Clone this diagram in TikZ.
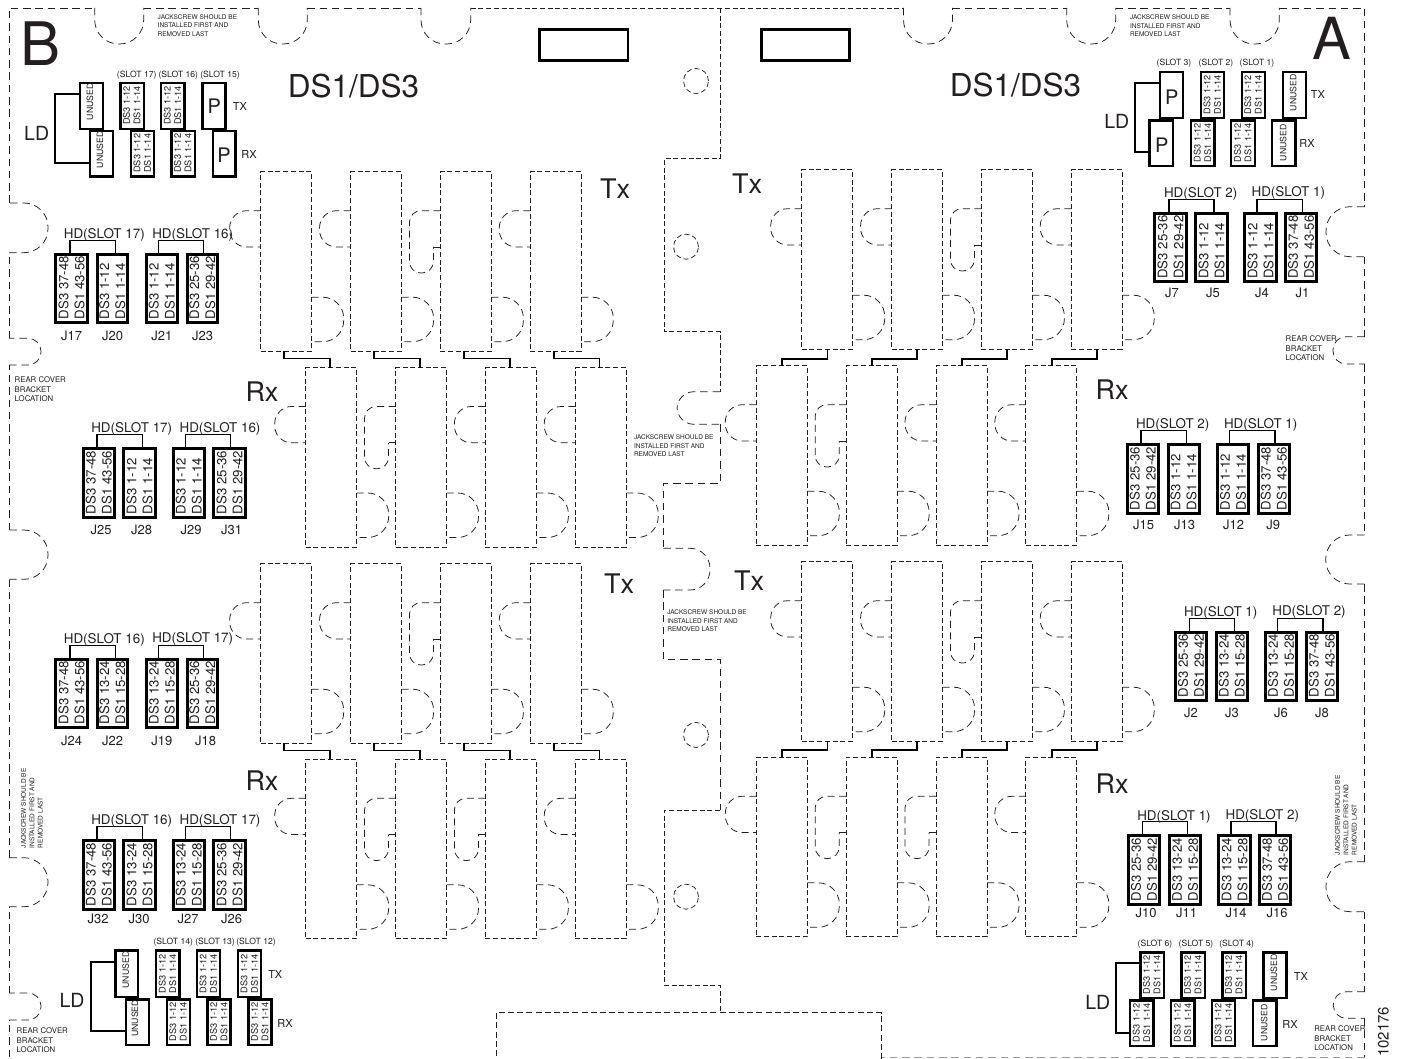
\documentclass[tikz,border=0pt]{standalone}
\usepackage{fontspec}
\setmainfont{TeX Gyre Heros}
\definecolor{ink}{HTML}{231F20}
\tikzset{
  slotrect/.style={draw=ink,line width=.75pt,dash pattern=on 5pt off 2.7pt,inner sep=0,outer sep=0,minimum width=51pt,minimum height=179.5pt},
  tabline/.style={draw=ink,line width=.75pt,dash pattern=on 7pt off 4.5pt},
  outline/.style={draw=ink,line width=.75pt,dash pattern=on 7.5pt off 4.8pt},
  fineline/.style={draw=ink,line width=.75pt,dash pattern=on 5pt off 2.7pt},
  hole/.style={draw=ink,line width=.75pt,dash pattern=on 5pt off 3pt,circle,inner sep=0,outer sep=0,minimum size=25pt},
  hdbox/.style={draw=black,line width=3pt,inner sep=0,outer sep=0,fill=white},
  smallbox/.style={draw=black,line width=2.4pt,inner sep=0,outer sep=0,fill=white},
  bracketline/.style={draw=black,line width=1.3pt},
  ldline/.style={draw=black,line width=2pt},
  linkline/.style={draw=black,line width=1.8pt},
  plate/.style={draw=black,line width=2.4pt,inner sep=0,outer sep=0},
  txt/.style={text=ink,inner sep=0,outer sep=0},
  hdtext/.style={txt,rotate=90,anchor=base west,font=\fontsize{13.2}{13.2}\selectfont},
  smtext/.style={txt,rotate=90,anchor=base west,font=\fontsize{9.2}{9.2}\selectfont},
  notetext/.style={txt,align=left,font=\fontsize{6.5}{8.4}\selectfont},
  reartext/.style={txt,align=left,font=\fontsize{7.8}{9.4}\selectfont},
}
\newcounter{tn}
% size x y(center of capitals) text
\newcommand\lab[4]{\stepcounter{tn}\node[txt,anchor=base,font=\fontsize{#1}{#1}\selectfont] (t\arabic{tn}) at (#2,#3+.36*#1) {#4};}
% name x1 x2 y1 y2 line1 line2
\newcommand\jbox[7]{%
  \pgfmathsetmacro\cx{(#2+#3)/2}\pgfmathsetmacro\cy{(#4+#5)/2}%
  \pgfmathsetmacro\bw{#3-#2-3}\pgfmathsetmacro\bh{#5-#4-3}%
  \node[hdbox,minimum width=\bw pt,minimum height=\bh pt] (#1) at (\cx,\cy) {};
  \node[hdtext] (#1a) at (\cx-8+4.75,#5-4.7) {#6};
  \node[hdtext] (#1b) at (\cx+8+4.75,#5-4.7) {#7};
}
% name x1 x2 y1 y2 : empty small box
\newcommand\sbx[5]{%
  \pgfmathsetmacro\cx{(#2+#3)/2}\pgfmathsetmacro\cy{(#4+#5)/2}%
  \pgfmathsetmacro\bw{#3-#2-2.4}\pgfmathsetmacro\bh{#5-#4-2.4}%
  \node[smallbox,minimum width=\bw pt,minimum height=\bh pt] (#1) at (\cx,\cy) {};
}
% small box with the two DS lines
\newcommand\ds[5]{%
  \sbx{#1}{#2}{#3}{#4}{#5}
  \node[smtext] (#1a) at (\cx-5.5+3.3,#5-5) {DS3 1-12};
  \node[smtext] (#1b) at (\cx+5+3.3,#5-5) {DS1 1-14};
}
\newcommand\unu[3]{\node[txt,rotate=90,font=\fontsize{8.7}{8.7}\selectfont] (#1) at (#2,#3) {UNUSED};}
\newcommand\pp[3]{\node[txt,font=\fontsize{20}{20}\selectfont] (#1) at (#2,#3) {P};}
\newcommand\brk[4]{\draw[bracketline] ([xshift=#2pt]#1.north) -- ++(0,-14) -| ([xshift=#4pt]#3.north);}
\newcommand\ldb[5]{\draw[ldline] ([yshift=#2pt]#1.west) -- ++(-#5,0) |- ([yshift=#4pt]#3.west);}
% name x0 ytop elong1..4
\newcommand\bank[7]{%
  \foreach \i/\e in {1/#4,2/#5,3/#6,4/#7}{%
    \pgfmathsetmacro\rx{#2+(\i-1)*89.85}%
    \pgfmathsetmacro\ya{#3+39}\pgfmathsetmacro\yb{#3+75.3}\pgfmathsetmacro\yc{#3+101.3}%
    \pgfmathsetmacro\yd{#3+125.5}\pgfmathsetmacro\ye{#3+170}%
    \node[slotrect] (#1\i) at (\rx+25.5,#3+89.75) {};
    \ifnum\e=1
      \draw[tabline,rounded corners=11.5pt] (\rx,\ya) -- (\rx-31,\ya) -- (\rx-31,\yc) -- (\rx-7,\yc) -- (\rx-7,\yb);
      \draw[draw=ink,line width=.75pt] (\rx-7,\yb) -- (\rx,\yb);
    \else
      \draw[tabline,rounded corners=17pt] (\rx,\ya) -- (\rx-31,\ya) -- (\rx-31,\yb) -- (\rx,\yb);
    \fi
    \draw[tabline,rounded corners=21pt] (\rx+51,\yd) -- (\rx+83,\yd) -- (\rx+83,\ye) -- (\rx+51,\ye);
  }%
}
\begin{document}
\begin{tikzpicture}[x=1pt,y=-1pt]
\useasboundingbox (0,0) rectangle (1403,1059);
\fill[white] (0,0) rectangle (1403,1059);

% ---------- board outline
\draw[outline] (9,1057) -- (9,1020);
\draw[outline,rounded corners=13pt] (9,1020) -- (41,1020) -- (41,993) -- (9,993);
\draw[outline] (9,993) -- (9,906.7);
\draw[outline,rounded corners=24pt] (9,906.7) -- (48,906.7) -- (48,857.7) -- (9,857.7);
\draw[outline] (9,857.7) -- (9,579.3);
\draw[outline,rounded corners=24pt] (9,579.3) -- (48,579.3) -- (48,530) -- (9,530);
\draw[outline] (9,530) -- (9,365);
\draw[outline,rounded corners=13pt] (9,365) -- (41,365) -- (41,338.3) -- (9,338.3);
\draw[outline] (9,338.3) -- (9,252.7);
\draw[outline,rounded corners=24pt] (9,252.7) -- (48,252.7) -- (48,203) -- (9,203);
\draw[outline] (9,203) -- (9,8) -- (94.7,8);
\draw[outline,rounded corners=24pt] (94.7,8) -- (94.7,44) -- (143.7,44) -- (143.7,8);
\draw[outline] (143.7,8) -- (258.3,8);
\draw[outline,rounded corners=24pt] (258.3,8) -- (258.3,44) -- (307.3,44) -- (307.3,8);
\draw[outline] (307.3,8) -- (421,8);
\draw[outline,rounded corners=24pt] (421,8) -- (421,44) -- (470.7,44) -- (470.7,8);
\draw[fineline] (470.7,8) -- (903.5,8);
\draw[outline,rounded corners=24pt] (903.5,8) -- (903.5,44) -- (952.5,44) -- (952.5,8);
\draw[outline] (952.5,8) -- (1066.7,8);
\draw[outline,rounded corners=24pt] (1066.7,8) -- (1066.7,44) -- (1115.7,44) -- (1115.7,8);
\draw[outline] (1115.7,8) -- (1230,8);
\draw[outline,rounded corners=24pt] (1230,8) -- (1230,44) -- (1279.3,44) -- (1279.3,8);
\draw[outline] (1279.3,8) -- (1364.7,8) -- (1364.7,206.7);
\draw[outline,rounded corners=24pt] (1364.7,206.7) -- (1326,206.7) -- (1326,256.7) -- (1364.7,256.7);
\draw[outline] (1364.7,256.7) -- (1364.7,336.7);
\draw[outline,rounded corners=13pt] (1364.7,336.7) -- (1333,336.7) -- (1333,364) -- (1364.7,364);
\draw[outline] (1364.7,364) -- (1364.7,535);
\draw[outline,rounded corners=24pt] (1364.7,535) -- (1325.7,535) -- (1325.7,584) -- (1364.7,584);
\draw[outline] (1364.7,584) -- (1364.7,861.7);
\draw[outline,rounded corners=24pt] (1364.7,861.7) -- (1326,861.7) -- (1326,911.7) -- (1364.7,911.7);
\draw[outline] (1364.7,911.7) -- (1364.7,991.7);
\draw[outline,rounded corners=13pt] (1364.7,991.7) -- (1333.3,991.7) -- (1333.3,1018.3) -- (1364.7,1018.3);
\draw[outline] (1364.7,1018.3) -- (1364.7,1057);
\draw[draw=ink!45,line width=.6pt,dash pattern=on 7.5pt off 4.8pt] (1364.7,1057) -- (881.7,1057);
\draw[draw=ink,line width=.75pt,dash pattern=on 6pt off 3.2pt] (881.7,1059) -- (881.7,1012.7) -- (496,1012.7) -- (496,1059);
% centre seam
\draw[fineline] (720,8) -- (720,158.7) -- (664,158.7) -- (664,331.7) -- (720,331.7) -- (720,391.7);
\draw[outline,rounded corners=17pt] (720,391.7) -- (677,391.7) -- (677,424.3) -- (720,424.3);
\draw[outline] (720,424.3) -- (720,483.3) -- (663.3,483.3) -- (663.3,548.3);
\draw[outline,rounded corners=20pt] (663.3,548.3) -- (710,548.3) -- (710,590) -- (663.3,590);
\draw[outline] (663.3,590) -- (663.3,659.3) -- (720,659.3) -- (720,810);
\draw[fineline] (720,810) -- (664,810) -- (664,985) -- (720,985) -- (720,1012.7);
% holes
\node[hole] (h1) at (696,81) {};
\node[hole] (h2) at (686,246.7) {};
\node[hole] (h3) at (696,735) {};
\node[hole] (h4) at (686,896.7) {};
% plates
\node[plate,minimum width=88.3pt,minimum height=31pt] (pl) at (583.7,45) {};
\node[plate,minimum width=88.3pt,minimum height=31pt] (pr) at (805.5,45) {};

% ---------- slot banks
\bank{TUL}{260.7}{171.7}{0}{0}{1}{0}
\bank{RUL}{305.7}{367.5}{0}{1}{0}{0}
\bank{TLL}{260.7}{563.7}{0}{0}{1}{0}
\bank{RLL}{305.7}{759.3}{0}{1}{1}{0}
\bank{TUR}{801.7}{169.7}{0}{0}{1}{0}
\bank{RUR}{756.3}{365.7}{0}{1}{0}{0}
\bank{TLR}{801.7}{561.7}{0}{0}{1}{0}
\bank{RLR}{756.3}{757.3}{0}{1}{1}{0}
\foreach \i in {1,2,3,4}{
  \draw[linkline] ([xshift=-1.9pt]TUL\i.south) -- ++(0,7.3) -| ([xshift=-1.2pt]RUL\i.north);
  \draw[linkline] ([xshift=-1.9pt]TLL\i.south) -- ++(0,7.3) -| ([xshift=-1.2pt]RLL\i.north);
  \draw[linkline] ([xshift=.5pt]RUR\i.north) -- ++(0,-7) -| ([xshift=.3pt]TUR\i.south);
  \draw[linkline] ([xshift=.5pt]RLR\i.north) -- ++(0,-7) -| ([xshift=.3pt]TLR\i.south);
}

% ---------- big labels
\lab{60}{40.7}{44}{B}
\lab{58}{1332}{39}{A}
\lab{31.5}{353.5}{86}{DS1/DS3}
\lab{31.5}{1015.5}{85}{DS1/DS3}
\lab{27}{615}{189}{Tx}
\lab{27}{747}{184}{Tx}
\lab{27}{619}{584}{Tx}
\lab{27}{749}{581}{Tx}
\lab{27}{262}{392}{Rx}
\lab{27}{1112}{390}{Rx}
\lab{27}{262}{781}{Rx}
\lab{27}{1112}{784}{Rx}

% ---------- notes
\node[notetext,anchor=north west] (n1) at (157.7,14.5) {JACKSCREW SHOULD BE\\INSTALLED FIRST AND\\REMOVED LAST};
\node[notetext,anchor=north west] (n2) at (1130,15) {JACKSCREW SHOULD BE\\INSTALLED FIRST AND\\REMOVED LAST};
\node[notetext,anchor=north west] (n3) at (634,435) {JACKSCREW SHOULD BE\\INSTALLED FIRST AND\\REMOVED LAST};
\node[notetext,anchor=north west] (n4) at (667.3,610) {JACKSCREW SHOULD BE\\INSTALLED FIRST AND\\REMOVED LAST};
\node[notetext,rotate=90,anchor=north west] (n5) at (21,848) {JACKSCREW SHOULD BE\\INSTALLED FIRST AND\\REMOVED LAST};
\node[notetext,rotate=90,anchor=north west] (n6) at (1335,855) {JACKSCREW SHOULD BE\\INSTALLED FIRST AND\\REMOVED LAST};
\node[reartext,anchor=north west] (r1) at (14.7,377) {REAR COVER\\BRACKET\\LOCATION};
\node[reartext,anchor=north west] (r2) at (1285.7,336) {REAR COVER\\BRACKET\\LOCATION};
\node[reartext,anchor=north west] (r3) at (16.7,1028) {REAR COVER\\BRACKET\\LOCATION};
\node[reartext,anchor=north west] (r4) at (1314.3,1026) {REAR COVER\\BRACKET\\LOCATION};
\node[txt,rotate=90,font=\fontsize{15}{15}\selectfont] (code) at (1383.3,1031.7) {102176};

% ---------- HD groups
\jbox{J17}{54.3}{88.7}{253.3}{324}{DS3 37-48}{DS1 43-56}
\jbox{J20}{95.7}{129}{253.3}{324}{DS3 1-12}{DS1 1-14}
\jbox{J21}{145}{178.7}{253.3}{324}{DS3 1-12}{DS1 1-14}
\jbox{J23}{185.7}{219}{253.3}{324}{DS3 25-36}{DS1 29-42}
\brk{J17}{-1.5}{J20}{2.8}\brk{J21}{-3.5}{J23}{1}
\lab{13.4}{104.3}{233.5}{HD(SLOT 17)}\lab{13.4}{192.7}{233.5}{HD(SLOT 16)}
\lab{13}{71.7}{335.5}{J17}\lab{13}{112.5}{335.5}{J20}\lab{13}{161.8}{335.5}{J21}\lab{13}{202.5}{335.5}{J23}

\jbox{J25}{81.7}{116}{447.3}{518.7}{DS3 37-48}{DS1 43-56}
\jbox{J28}{122.3}{156.7}{447.3}{518.7}{DS3 1-12}{DS1 1-14}
\jbox{J29}{171.7}{206}{447.3}{518.7}{DS3 1-12}{DS1 1-14}
\jbox{J31}{212.3}{246.7}{447.3}{518.7}{DS3 25-36}{DS1 29-42}
\brk{J25}{-1.8}{J28}{2.8}\brk{J29}{-3.5}{J31}{1}
\lab{13.4}{131.7}{427.5}{HD(SLOT 17)}\lab{13.4}{220}{427.5}{HD(SLOT 16)}
\lab{13}{101}{530}{J25}\lab{13}{141.7}{530}{J28}\lab{13}{191}{530}{J29}\lab{13}{231.5}{530}{J31}

\jbox{J24}{54.3}{88.7}{658.3}{729}{DS3 37-48}{DS1 43-56}
\jbox{J22}{95.7}{129}{658.3}{729}{DS3 13-24}{DS1 15-28}
\jbox{J19}{145}{178.7}{658.3}{729}{DS3 13-24}{DS1 15-28}
\jbox{J18}{185.7}{219}{658.3}{729}{DS3 25-36}{DS1 29-42}
\brk{J24}{-1.5}{J22}{2.8}\brk{J19}{-3.5}{J18}{1}
\lab{13.4}{104.3}{638.5}{HD(SLOT 16)}\lab{13.4}{192.7}{637.5}{HD(SLOT 17)}
\lab{13}{71.7}{740.5}{J24}\lab{13}{112.5}{740.5}{J22}\lab{13}{161.8}{740.5}{J19}\lab{13}{205.5}{740.5}{J18}

\jbox{J32}{81.7}{116}{839.3}{910.7}{DS3 37-48}{DS1 43-56}
\jbox{J30}{122.3}{156.7}{839.3}{910.7}{DS3 13-24}{DS1 15-28}
\jbox{J27}{171.7}{206}{839.3}{910.7}{DS3 13-24}{DS1 15-28}
\jbox{J26}{212.3}{246.7}{839.3}{910.7}{DS3 25-36}{DS1 29-42}
\brk{J32}{-1.8}{J30}{2.8}\brk{J27}{-3.5}{J26}{1}
\lab{13.4}{131.7}{819.5}{HD(SLOT 16)}\lab{13.4}{220}{819.5}{HD(SLOT 17)}
\lab{13}{98}{919}{J32}\lab{13}{139}{919}{J30}\lab{13}{188}{919}{J27}\lab{13}{231.5}{919}{J26}

\jbox{J7}{1153.3}{1187.7}{211.7}{283.3}{DS3 25-36}{DS1 29-42}
\jbox{J5}{1194.3}{1228.7}{211.7}{283.3}{DS3 1-12}{DS1 1-14}
\jbox{J4}{1243.3}{1277.7}{211.7}{283.3}{DS3 1-12}{DS1 1-14}
\jbox{J1}{1284}{1318.3}{211.7}{283.3}{DS3 37-48}{DS1 43-56}
\brk{J7}{-1.5}{J5}{2.5}\brk{J4}{-3.5}{J1}{1.3}
\lab{13.4}{1200.7}{192.5}{HD(SLOT 2)}\lab{13.4}{1288.3}{191.5}{HD(SLOT 1)}
\lab{13}{1172}{293}{J7}\lab{13}{1213}{293}{J5}\lab{13}{1262}{293}{J4}\lab{13}{1302.5}{293}{J1}

\jbox{J15}{1125.7}{1160}{443.3}{514.7}{DS3 25-36}{DS1 29-42}
\jbox{J13}{1166.7}{1200.7}{443.3}{514.7}{DS3 1-12}{DS1 1-14}
\jbox{J12}{1216}{1250}{443.3}{514.7}{DS3 1-12}{DS1 1-14}
\jbox{J9}{1256.7}{1291}{443.3}{514.7}{DS3 37-48}{DS1 43-56}
\brk{J15}{-1.8}{J13}{2.8}\brk{J12}{-3.5}{J9}{1}
\lab{13.4}{1172.7}{424}{HD(SLOT 2)}\lab{13.4}{1260.7}{424}{HD(SLOT 1)}
\lab{13}{1143.5}{525}{J15}\lab{13}{1184.5}{525}{J13}\lab{13}{1233.7}{525}{J12}\lab{13}{1273.3}{525}{J9}

\jbox{J2}{1174}{1208}{631}{702}{DS3 25-36}{DS1 29-42}
\jbox{J3}{1214.7}{1249}{631}{702}{DS3 13-24}{DS1 15-28}
\jbox{J6}{1264}{1298.3}{631}{702}{DS3 13-24}{DS1 15-28}
\jbox{J8}{1304.7}{1339}{631}{702}{DS3 37-48}{DS1 43-56}
\brk{J2}{-1.8}{J3}{2.8}\brk{J6}{-3.5}{J8}{1}
\lab{13.4}{1220.7}{611.5}{HD(SLOT 1)}\lab{13.4}{1309}{610.5}{HD(SLOT 2)}
\lab{13}{1191}{713}{J2}\lab{13}{1232}{713}{J3}\lab{13}{1281}{713}{J6}\lab{13}{1322}{713}{J8}

\jbox{J10}{1126.7}{1161.3}{834.3}{906}{DS3 25-36}{DS1 29-42}
\jbox{J11}{1167.7}{1202.3}{834.3}{906}{DS3 13-24}{DS1 15-28}
\jbox{J14}{1217.3}{1251.7}{834.3}{906}{DS3 13-24}{DS1 15-28}
\jbox{J16}{1257.7}{1292.3}{834.3}{906}{DS3 37-48}{DS1 43-56}
\brk{J10}{-1.8}{J11}{2.8}\brk{J14}{-3.5}{J16}{1}
\lab{13.4}{1174}{815.5}{HD(SLOT 1)}\lab{13.4}{1262.3}{815}{HD(SLOT 2)}
\lab{13}{1146}{913}{J10}\lab{13}{1186.5}{913}{J11}\lab{13}{1236}{913}{J14}\lab{13}{1277}{913}{J16}

% ---------- top-left small group
\sbx{UA}{79}{104}{81.7}{130}\sbx{UB}{89}{114.3}{130}{177.7}
\unu{UAt}{90}{101.7}\unu{UBt}{100}{149.7}
\ds{SA1}{119.3}{145}{81.7}{130}\ds{SB1}{130}{155.3}{130}{177.7}
\ds{SA2}{160}{185.7}{81.7}{130}\ds{SB2}{170.3}{196}{130}{177.7}
\sbx{PA}{201.3}{226.7}{81.7}{130}\sbx{PB}{211.7}{236.7}{130}{177.7}
\pp{PAt}{214.3}{106.7}\pp{PBt}{224}{155}
\ldb{UA}{11.85}{UB}{-9.45}{25.2}
\lab{19.5}{36.7}{133.5}{LD}\lab{11}{240}{107}{TX}\lab{11}{249}{155}{RX}
\lab{8.6}{136.7}{74}{(SLOT 17)}\lab{8.6}{178.3}{74}{(SLOT 16)}\lab{8.6}{220}{74}{(SLOT 15)}

% ---------- top-right small group
\sbx{QA}{1159}{1184.3}{71}{119.3}\sbx{QB}{1148.3}{1174.3}{119.3}{167.3}
\pp{QAt}{1171.7}{97.7}\pp{QBt}{1161.7}{145}
\ds{TA1}{1200}{1225.3}{71}{119.3}\ds{TB1}{1189.7}{1215.7}{119.3}{167.3}
\ds{TA2}{1240.7}{1266}{71}{119.3}\ds{TB2}{1230}{1256}{119.3}{167.3}
\sbx{VA}{1282}{1307.3}{71}{119.3}\sbx{VB}{1271}{1296.7}{119.3}{167.3}
\unu{VAt}{1293.3}{92.8}\unu{VBt}{1283.3}{142.8}
\ldb{QA}{12.15}{QB}{-8.7}{25.2}
\lab{19.5}{1116.7}{121.7}{LD}\lab{11}{1318}{95}{TX}\lab{11}{1307}{144}{RX}
\lab{8.6}{1174}{62.7}{(SLOT 3)}\lab{8.6}{1216}{62.7}{(SLOT 2)}\lab{8.6}{1257}{62.7}{(SLOT 1)}

% ---------- bottom-left small group
\sbx{WA}{114.3}{139.3}{949.3}{998.3}\sbx{WB}{124.7}{150}{998.3}{1046}
\unu{WAt}{125.7}{970}\unu{WBt}{135}{1018.3}
\ds{XA1}{155}{180.7}{949.3}{998.3}\ds{XB1}{165.7}{191}{998.3}{1046}
\ds{XA2}{195.7}{221.3}{949.3}{998.3}\ds{XB2}{206.3}{231.7}{998.3}{1046}
\ds{XA3}{236.7}{262.3}{949.3}{998.3}\ds{XB3}{247.3}{272.7}{998.3}{1046}
\ldb{WA}{12.1}{WB}{-8.55}{24.8}
\lab{19.5}{72}{1000.7}{LD}\lab{11}{275.3}{975}{TX}\lab{11}{285}{1023.3}{RX}
\lab{8.6}{173.3}{941.7}{(SLOT 14)}\lab{8.6}{215}{941.7}{(SLOT 13)}\lab{8.6}{256}{941.7}{(SLOT 12)}

% ---------- bottom-right small group
\ds{YA1}{1139.3}{1165}{951.3}{999.3}\ds{YB1}{1128.7}{1154.7}{999.3}{1047.3}
\ds{YA2}{1180.3}{1206}{951.3}{999.3}\ds{YB2}{1170}{1195.7}{999.3}{1047.3}
\ds{YA3}{1221.3}{1247}{951.3}{999.3}\ds{YB3}{1210.7}{1236.3}{999.3}{1047.3}
\sbx{ZA}{1262.3}{1287.7}{951.3}{999.3}\sbx{ZB}{1251.7}{1277.7}{999.3}{1047.3}
\unu{ZAt}{1274}{972.8}\unu{ZBt}{1264.3}{1022.8}
\ldb{YA1}{12.6}{YB1}{-10}{24.8}
\lab{19.5}{1097.7}{1002.7}{LD}\lab{11}{1301}{976.7}{TX}\lab{11}{1290}{1025}{RX}
\lab{8.6}{1155}{943.7}{(SLOT 6)}\lab{8.6}{1196}{943.7}{(SLOT 5)}\lab{8.6}{1236.7}{943.7}{(SLOT 4)}
\end{tikzpicture}
\end{document}
